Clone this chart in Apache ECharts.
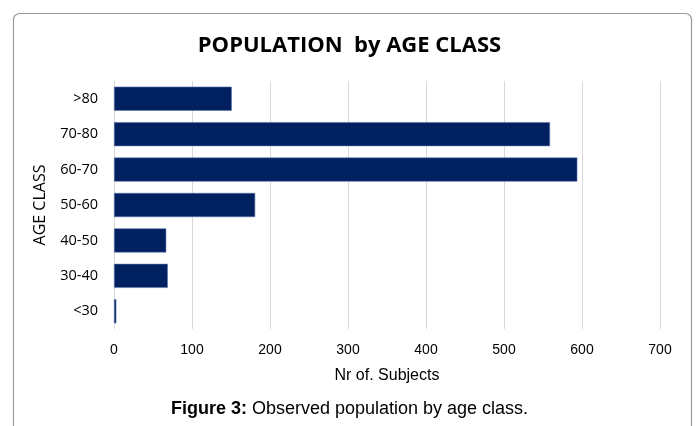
<!DOCTYPE html>
<html><head><meta charset="utf-8">
<script src="https://cdn.jsdelivr.net/npm/echarts@6/dist/echarts.min.js"></script>
<style>html,body{margin:0;padding:0;background:#fff}#c{width:699px;height:426px}</style>
</head><body><div id="c"></div>
<script>
const categories = ['<30', '30-40', '40-50', '50-60', '60-70', '70-80', '>80'];
const subjects = [3, 69, 67, 181, 594, 559, 151];
const xTicks = [0, 700, 100];

const chart = echarts.init(document.getElementById('c'), null, {renderer: 'canvas'});
chart.setOption({
  animation: false,
  backgroundColor: '#fff',
  title: {
    text: 'POPULATION  by AGE CLASS',
    left: 'center', top: 30,
    textStyle: {fontFamily: 'Open Sans', fontWeight: 'bold', fontSize: 22, color: '#000'}
  },
  grid: {left: 114, right: 39, top: 81, bottom: 97},
  xAxis: {
    type: 'value', min: xTicks[0], max: xTicks[1], interval: xTicks[2],
    name: 'Nr of. Subjects', nameLocation: 'middle', nameGap: 39,
    nameTextStyle: {fontFamily: 'Liberation Sans', fontSize: 16, color: '#000'},
    axisLine: {show: false}, axisTick: {show: false},
    axisLabel: {fontFamily: 'Liberation Sans', fontSize: 14, color: '#000', margin: 14},
    splitLine: {lineStyle: {color: '#d9d9d9', width: 1}}
  },
  yAxis: {
    type: 'category', data: categories,
    name: 'AGE CLASS', nameLocation: 'middle', nameGap: 66, nameRotate: 90,
    nameTextStyle: {fontFamily: 'Open Sans', fontSize: 16, color: '#000'},
    axisLine: {show: false}, axisTick: {show: false},
    axisLabel: {fontFamily: 'Open Sans', fontSize: 14.5, color: '#000', margin: 16}
  },
  series: [{
    type: 'bar', data: subjects, barCategoryGap: '32%',
    itemStyle: {color: '#002060', borderColor: '#5a74a6', borderWidth: 0.6}
  }],
  graphic: [
    {type: 'rect', shape: {x: 13.5, y: 13.5, width: 678, height: 440, r: 6},
     style: {fill: 'none', stroke: '#9a9a9a', lineWidth: 1.2}, z: -1},
    {type: 'text', left: 'center', top: 400,
     style: {
       text: '{b|Figure 3:} Observed population by age class.',
       rich: {b: {fontWeight: 'bold', fontFamily: 'Liberation Sans', fontSize: 18, fill: '#000'}},
       fontFamily: 'Liberation Sans', fontSize: 18, fill: '#000'
     }}
  ]
});
</script></body></html>
